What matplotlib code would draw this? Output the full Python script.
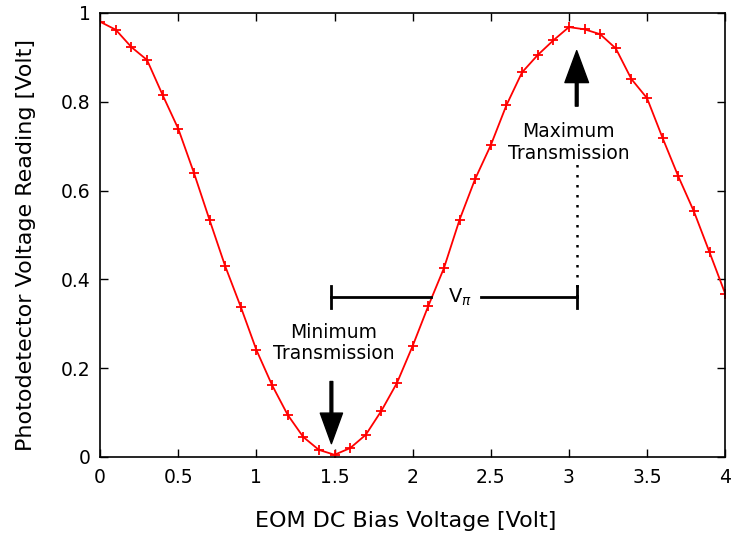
import numpy as np
import matplotlib
matplotlib.use("Agg")
import matplotlib.pyplot as plt

bias_voltage = [0.0, 0.1, 0.2, 0.3, 0.4, 0.5, 0.6, 0.7, 0.8, 0.9, 1.0,
                1.1, 1.2, 1.3, 1.4, 1.5, 1.6, 1.7, 1.8, 1.9, 2.0,
                2.1, 2.2, 2.3, 2.4, 2.5, 2.6, 2.7, 2.8, 2.9, 3.0,
                3.1, 3.2, 3.3, 3.4, 3.5, 3.6, 3.7, 3.8, 3.9, 4.0]
pd_voltage = [0.980, 0.962, 0.923, 0.894, 0.815, 0.739, 0.640, 0.534, 0.430, 0.338, 0.241,
              0.162, 0.095, 0.045, 0.016, 0.005, 0.020, 0.050, 0.104, 0.167, 0.250,
              0.340, 0.425, 0.534, 0.626, 0.702, 0.792, 0.866, 0.905, 0.938, 0.968,
              0.963, 0.952, 0.920, 0.851, 0.808, 0.718, 0.632, 0.553, 0.461, 0.368]

x_ticks = [0, 0.5, 1, 1.5, 2, 2.5, 3, 3.5, 4]
x_ticklabels = ["0", "0.5", "1", "1.5", "2", "2.5", "3", "3.5", "4"]
y_ticks = [0, 0.2, 0.4, 0.6, 0.8, 1]
y_ticklabels = ["0", "0.2", "0.4", "0.6", "0.8", "1"]

v_min = 1.48
v_max = 3.05
v_pi_level = 0.36

fig = plt.figure(figsize=(7.31, 5.37), dpi=100)
ax = fig.add_axes([0.137, 0.149, 0.855, 0.827])

ax.plot(bias_voltage, pd_voltage, color="red", lw=1.3, marker="+",
        markersize=7, markeredgewidth=1.3)

ax.set_xlim(0, 4)
ax.set_ylim(0, 1)
ax.set_xticks(x_ticks)
ax.set_xticklabels(x_ticklabels)
ax.set_yticks(y_ticks)
ax.set_yticklabels(y_ticklabels)
ax.tick_params(direction="in", length=6, width=1, top=True, right=True,
               labelsize=13.5)
ax.tick_params(axis="x", pad=8)
ax.tick_params(axis="y", pad=7)
for s in ax.spines.values():
    s.set_linewidth(1.2)

ax.set_xlabel("EOM DC Bias Voltage [Volt]", fontsize=16, labelpad=17)
ax.set_ylabel("Photodetector Voltage Reading [Volt]", fontsize=16, labelpad=18)
ax.xaxis.label.set_x(0.489)
ax.yaxis.label.set_y(0.477)

# V_pi bar (with a gap for the label)
ax.plot([v_min, 2.118], [v_pi_level, v_pi_level], color="black", lw=2)
ax.plot([2.438, v_max], [v_pi_level, v_pi_level], color="black", lw=2)
ax.plot([v_min, v_min], [v_pi_level - 0.025, v_pi_level + 0.025], color="black", lw=2)
ax.plot([v_max, v_max], [v_pi_level - 0.025, v_pi_level + 0.025], color="black", lw=2)
ax.text(2.30, v_pi_level, r"V$_\pi$", fontsize=14, ha="center", va="center")

# dotted line
ax.plot([v_max, v_max], [v_pi_level, 0.665], color="black", lw=1.8, ls=(0, (1, 3)))

# arrows
ax.annotate("", xy=(v_max, 0.915), xytext=(v_max, 0.79),
            arrowprops=dict(facecolor="black", edgecolor="black", width=2,
                            headwidth=17, headlength=23, shrink=0))
ax.annotate("", xy=(v_min, 0.03), xytext=(v_min, 0.17),
            arrowprops=dict(facecolor="black", edgecolor="black", width=2,
                            headwidth=16, headlength=22, shrink=0))

ax.text(v_max - 0.05, 0.708, "Maximum\nTransmission", fontsize=13.5,
        ha="center", va="center", linespacing=1.15)
ax.text(v_min + 0.015, 0.256, "Minimum\nTransmission", fontsize=13.5,
        ha="center", va="center", linespacing=1.15)

fig.savefig("out.png", dpi=100)
